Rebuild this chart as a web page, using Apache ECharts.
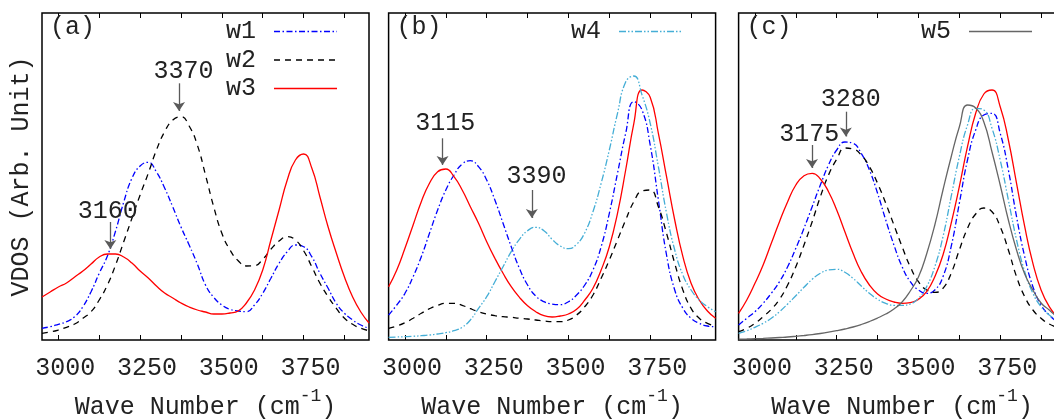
<!DOCTYPE html>
<html><head><meta charset="utf-8">
<script src="https://cdn.jsdelivr.net/npm/echarts@6/dist/echarts.min.js"></script>
<style>html,body{margin:0;padding:0;background:#fff}#c{width:1054px;height:419px}</style>
</head><body><div id="c"></div>
<script>
// Wave numbers (cm^-1) at which the curves were read
const waveNumber = [2950,2975,3000,3025,3050,3075,3100,3125,3150,3175,3200,3225,3250,3275,3300,3325,3350,3375,3400,3425,3450,3475,3500,3525,3550,3575,3600,3625,3650,3675,3700,3725,3750,3775,3800,3825,3850,3875,3900,3925,3950];
const xTicks = [3000,3125,3250,3375,3500,3625,3750,3875];
const xTickLabels = [3000,3250,3500,3750];

// Panel (a)
const aW1 = [11.7,13.3,15.7,18.3,23.3,33.3,48.3,66.7,84,109,138,161.7,174,177.7,168,152,133,113,95,76,55,42.7,35,30.7,29,28.3,35,46.7,61.7,76.7,88.3,95,93.3,83.3,66.7,51.7,36.7,26.7,20,15,11.7];
const aW2 = [6.7,8,10,12.7,16,21.7,28.3,40,55,75,98.3,121.7,145,166.7,190,208.3,220,223.3,214,195,165,133.3,106.7,90,79.3,74,74.3,80.7,90.7,99,103.3,100,89.3,73.3,56.7,43.3,31.7,21.7,15.7,11.7,9.3];
const aW3 = [43,48,53,57,63,69,76,83,86,86,83,77,69,62,54,47,42,37,33,30,28,26,26,27,29,37,50,70,100,130,160,180,186,172,143,113,87,63,43,28,17];

// Panel (b)
const bW1 = [25,35,46.7,63.3,83.3,106.7,130,150,165,176,179.3,173.3,160,140,116.7,93.3,71.7,55,44,38.3,36,35.3,38.3,45,55,70,93.3,126.7,166.7,206.7,238.3,230,195,140,85,50,31.7,21.7,16.7,14,13.3];
const bW2 = [11.7,14,17.3,21.7,26.7,31.3,34.7,36.7,36.7,34.7,31.3,28.3,26,24.3,23.3,22.7,21.7,21,20,19,18.3,18.3,20,25,33.3,45,61.7,80,100,120,138.3,149,150,133.3,106.7,76.7,50,31.7,21.7,16.7,14];
const bW3 = [53.3,70,91.7,115,138.3,156.7,168.3,171,163.3,150,133.3,116.7,98.3,81.7,66.7,53.3,42.7,34.3,28.3,24.3,23,24,26,30.7,40,51.7,70,93.3,126.7,170,216.7,250,242.7,206.7,163.3,120,83.3,56.7,40,29,21.7];
const bW4 = [2.7,3,3.3,3.7,4.3,5,6,7.3,9.3,12.7,20,31.7,43.3,58.3,73.3,88.3,100.7,109.3,112.7,109.3,100.7,94,91.3,95.7,107.3,128.3,156.7,190,226.7,258,264,245,216.7,173.3,126.7,90,65,50,40,33.3,28.3];

// Panel (c)
const cW1 = [15,21.7,28.3,36.7,46.7,58.3,73.3,91.7,111.7,133.3,155,175,190,198,196.7,186.7,170,146.7,120,95,73.3,58.3,50,46.7,50,63.3,93.3,136.7,180,210,225,226.7,206.7,170,123.3,83.3,53.3,35,25,18.3,14];
const cW2 = [8.3,11.7,16.7,23.3,30.7,40.7,55,73.3,95,118.3,143.3,165,180.7,192,191,185,173.3,156.7,136.7,115,93.3,73.3,58.3,50,47.7,51.7,66.7,90,111.7,126,132,128.3,113.3,90,63.3,43.3,30,21.7,16,12.7,10.7];
const cW3 = [26.7,40,56.7,75,96.7,118.3,138.3,155,164.3,166.7,161,148.3,130,108.3,86.7,68.3,55,46,41,38,36.7,37.3,40.7,48.3,63.3,85,116.7,153.3,193.3,226.7,246,250,233.3,200,156.7,113.3,76.7,50,33.3,23.3,16.7];
const cW4 = [6.7,9.3,12.7,16.7,21.7,28.3,36,44.3,52.7,60.7,66.7,70,70.7,67.7,61.7,54,46.7,40.7,36.7,34.7,34.7,36,41.7,53.3,73.3,103.3,143.3,183.3,215,231.7,230,211.7,180,140,100,68.3,46.7,33.3,25,20,16];
const cW5 = [0.8,1,1.3,1.6,2,2.5,3,3.7,4.5,5.4,6.5,7.8,9.3,11,13,15.5,18.5,22,26,31,38,49,63,86,115,150,183,213,235,232,218,188,155,120,90,66,50,37,30,23,18];

// Peak annotations: arrow at x from y0 to y1, label text at (lx, ly)
const notesA = [{x:3159,y0:118,y1:91,label:'3160',lx:3151,ly:129},{x:3369,y0:256.7,y1:229,label:'3370',lx:3383,ly:268.7}];
const notesB = [{x:3115,y0:201.7,y1:175,label:'3115',lx:3123,ly:216.7},{x:3388,y0:150,y1:122,label:'3390',lx:3402,ly:163.3}];
const notesC = [{x:3174.5,y0:195,y1:172,label:'3175',lx:3166,ly:205.3},{x:3278,y0:228.3,y1:203.5,label:'3280',lx:3293,ly:240.5}];

const FONT = '"Liberation Mono","DejaVu Sans Mono",monospace';
const TXT = '#222';
const styles = {
  w1:{color:'#0000ff', type:[6,2.5,1.5,2.5]},
  w2:{color:'#000000', type:[6,5]},
  w3:{color:'#ff0000', type:'solid'},
  w4:{color:'#45aed6', type:[7,2,1.5,2,1.5,2]},
  w5:{color:'#666666', type:'solid'}
};
const panels = [
  {left:42, tag:'(a)', series:[['w1',aW1],['w2',aW2],['w3',aW3]], notes:notesA},
  {left:388.6, tag:'(b)', series:[['w1',bW1],['w2',bW2],['w3',bW3],['w4',bW4]], notes:notesB},
  {left:738.6, tag:'(c)', series:[['w1',cW1],['w2',cW2],['w3',cW3],['w4',cW4],['w5',cW5]], notes:notesC}
];

const grid=[], xAxis=[], yAxis=[], series=[], title=[];
panels.forEach((p,i)=>{
  grid.push({left:p.left, top:13, width:327, height:327, show:true, borderColor:'#000', borderWidth:1.5, backgroundColor:'transparent', containLabel:false, outerBoundsMode:'none'});
  xAxis.push({type:'value', gridIndex:i, min:2950, max:3950, position:'bottom',
    axisLine:{show:false}, splitLine:{show:false},
    axisTick:{show:true, inside:true, length:5, lineStyle:{color:'#000', width:1}, customValues:xTicks},
    axisLabel:{show:true, customValues:xTickLabels, formatter:v=>String(v), margin:16, fontFamily:FONT, fontSize:25, color:TXT, padding:[0,0,0,14]},
    name:'{t|Wave Number (cm}{s|-1}{t|)}', nameLocation:'middle', nameGap:47,
    nameTextStyle:{rich:{t:{fontFamily:FONT, fontSize:25, color:TXT}, s:{fontFamily:FONT, fontSize:18, color:TXT, padding:[0,0,22,0]}}}
  });
  xAxis.push({type:'value', gridIndex:i, min:2950, max:3950, position:'top',
    axisLine:{show:false}, splitLine:{show:false}, axisLabel:{show:false},
    axisTick:{show:true, inside:true, length:5, lineStyle:{color:'#000', width:1}, customValues:xTicks}
  });
  yAxis.push({type:'value', gridIndex:i, min:0, max:327,
    axisLine:{show:false}, axisTick:{show:false}, axisLabel:{show:false}, splitLine:{show:false},
    name: i===0 ? 'VDOS (Arb. Unit)' : '', nameLocation:'middle', nameGap:8,
    nameTextStyle:{fontFamily:FONT, fontSize:25, color:TXT}
  });
  title.push({text:p.tag, left:p.left+8, top:15, padding:0, textStyle:{fontFamily:FONT, fontSize:25, fontWeight:'normal', color:TXT}});
  p.series.forEach(([name,vals],k)=>{
    const st = styles[name];
    const s = {type:'line', name, xAxisIndex:2*i, yAxisIndex:i, symbol:'none', smooth:0.5,
      data: waveNumber.map((x,j)=>[x, vals[j]]),
      lineStyle:{color:st.color, width:1.3, type:st.type}, itemStyle:{color:st.color}, z:2+k, animation:false};
    if(name==='w3'){
      s.markLine = {silent:true, animation:false, symbol:['none','arrow'], symbolSize:9, label:{show:false},
        lineStyle:{color:'#5a5a5a', width:1.3, type:'solid'},
        data: p.notes.map(n=>[{coord:[n.x,n.y0]},{coord:[n.x,n.y1]}])};
      s.markPoint = {silent:true, animation:false, symbol:'circle', symbolSize:1, itemStyle:{color:'rgba(0,0,0,0)'},
        label:{show:true, position:'inside', formatter:q=>q.name, fontFamily:FONT, fontSize:25, color:TXT},
        data: p.notes.map(n=>({name:n.label, coord:[n.lx,n.ly]}))};
    }
    series.push(s);
  });
});

const legendBase = {orient:'vertical', align:'right', itemWidth:63, itemHeight:12, itemGap:3.5,
  textStyle:{fontFamily:FONT, fontSize:25, color:TXT, lineHeight:22, padding:[0,13,0,0]},
  itemStyle:{color:'rgba(0,0,0,0)', borderWidth:0, borderColor:'rgba(0,0,0,0)'},
  lineStyle:{width:1.3}, selectedMode:false, padding:0};
const legend = [
  Object.assign({}, legendBase, {data:['w1','w2','w3'], left:226, top:19}),
  Object.assign({}, legendBase, {data:['w4'], left:571, top:19}),
  Object.assign({}, legendBase, {data:['w5'], left:921, top:19})
];

const chart = echarts.init(document.getElementById('c'));
chart.setOption({animation:false, backgroundColor:'#fff', textStyle:{fontFamily:FONT}, title, legend, grid, xAxis, yAxis, series});
</script></body></html>
